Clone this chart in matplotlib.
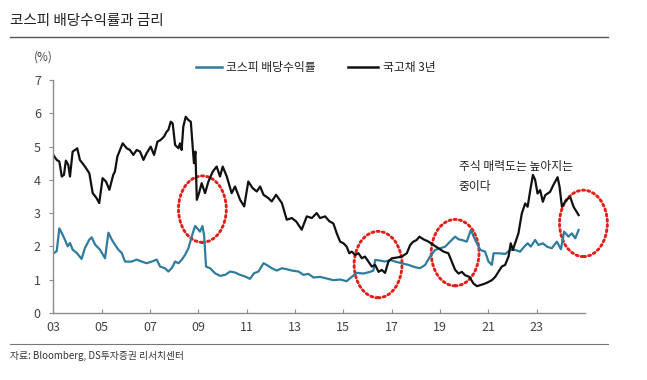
import matplotlib
matplotlib.use("Agg")
import matplotlib.pyplot as plt
from matplotlib.patches import Ellipse
from matplotlib.lines import Line2D

plt.rcParams['font.family'] = ['Noto Sans CJK KR', 'DejaVu Sans']

# 국고채 3년 (year, %)
bond_year = [2003.00, 2003.14, 2003.25, 2003.35, 2003.44, 2003.52, 2003.62, 2003.69, 2003.80, 2003.90,
             2003.99, 2004.10, 2004.31, 2004.49, 2004.63, 2004.79, 2004.90, 2005.04, 2005.18, 2005.32,
             2005.48, 2005.55, 2005.65, 2005.87, 2006.04, 2006.17, 2006.31, 2006.45, 2006.59, 2006.73,
             2006.86, 2007.03, 2007.17, 2007.31, 2007.44, 2007.58, 2007.69, 2007.76, 2007.86, 2007.94,
             2008.04, 2008.18, 2008.24, 2008.31, 2008.38, 2008.48, 2008.59, 2008.69, 2008.77, 2008.82,
             2008.88, 2008.94, 2009.03, 2009.14, 2009.28, 2009.42, 2009.60, 2009.76, 2009.90, 2010.01,
             2010.18, 2010.38, 2010.52, 2010.73, 2010.90, 2011.07, 2011.25, 2011.42, 2011.56, 2011.70,
             2011.90, 2012.04, 2012.22, 2012.46, 2012.66, 2012.87, 2013.05, 2013.28, 2013.49, 2013.70,
             2013.90, 2014.04, 2014.25, 2014.43, 2014.59, 2014.73, 2014.87, 2015.01, 2015.14, 2015.25,
             2015.35, 2015.49, 2015.63, 2015.77, 2015.90, 2016.04, 2016.18, 2016.32, 2016.46, 2016.59,
             2016.73, 2016.87, 2017.01, 2017.21, 2017.42, 2017.63, 2017.77, 2017.90, 2018.04, 2018.15,
             2018.32, 2018.53, 2018.73, 2018.94, 2019.15, 2019.35, 2019.49, 2019.63, 2019.77, 2019.91,
             2020.04, 2020.22, 2020.39, 2020.53, 2020.67, 2020.80, 2020.94, 2021.15, 2021.29, 2021.42,
             2021.56, 2021.70, 2021.84, 2021.93, 2022.02, 2022.11, 2022.25, 2022.39, 2022.53, 2022.63,
             2022.74, 2022.85, 2022.94, 2023.04, 2023.15, 2023.26, 2023.36, 2023.56, 2023.70, 2023.87,
             2023.95, 2024.05, 2024.23, 2024.39, 2024.53, 2024.74]
bond_val = [4.75, 4.60, 4.55, 4.10, 4.15, 4.58, 4.45, 4.10, 4.85, 4.90,
            4.95, 4.60, 4.40, 4.20, 3.60, 3.45, 3.30, 4.05, 3.95, 3.70,
            4.15, 4.25, 4.70, 5.10, 4.95, 4.90, 4.75, 4.90, 4.85, 4.60,
            4.80, 5.00, 4.75, 5.15, 5.20, 5.30, 5.45, 5.50, 5.75, 5.70,
            5.05, 4.95, 5.10, 4.90, 5.60, 5.90, 5.80, 5.75, 5.00, 4.50,
            4.85, 3.40, 3.60, 3.90, 3.60, 3.95, 4.25, 4.40, 4.10, 4.40,
            4.10, 3.60, 3.80, 3.40, 3.20, 3.95, 3.75, 3.65, 3.80, 3.55,
            3.45, 3.35, 3.55, 3.30, 2.80, 2.85, 2.75, 2.50, 2.90, 2.85,
            3.00, 2.85, 2.90, 2.75, 2.69, 2.39, 2.14, 2.09, 1.99, 1.79,
            1.84, 1.74, 1.79, 1.64, 1.69, 1.54, 1.39, 1.44, 1.23, 1.29,
            1.20, 1.54, 1.64, 1.66, 1.69, 1.79, 2.04, 2.14, 2.19, 2.29,
            2.21, 2.14, 2.04, 1.94, 1.84, 1.79, 1.54, 1.29, 1.18, 1.23,
            1.13, 1.08, 0.88, 0.80, 0.83, 0.86, 0.90, 0.98, 1.08, 1.23,
            1.39, 1.44, 1.69, 2.09, 1.89, 2.09, 2.39, 2.99, 3.29, 3.19,
            3.69, 4.15, 4.00, 3.59, 3.69, 3.34, 3.54, 3.64, 3.85, 4.08,
            3.80, 3.19, 3.39, 3.49, 3.19, 2.94]

# 코스피 배당수익률 (year, %)
div_year = [2003.00, 2003.14, 2003.25, 2003.35, 2003.48, 2003.59, 2003.69, 2003.80, 2003.97, 2004.17,
            2004.31, 2004.49, 2004.59, 2004.73, 2004.93, 2005.14, 2005.28, 2005.42, 2005.55, 2005.69,
            2005.83, 2005.97, 2006.24, 2006.45, 2006.66, 2006.86, 2007.07, 2007.28, 2007.42, 2007.62,
            2007.76, 2007.90, 2008.04, 2008.18, 2008.31, 2008.45, 2008.59, 2008.77, 2008.87, 2008.96,
            2009.07, 2009.17, 2009.24, 2009.32, 2009.49, 2009.69, 2009.90, 2010.11, 2010.32, 2010.52,
            2010.73, 2010.94, 2011.14, 2011.31, 2011.49, 2011.70, 2011.83, 2012.04, 2012.25, 2012.46,
            2012.66, 2012.87, 2013.15, 2013.35, 2013.56, 2013.77, 2014.04, 2014.32, 2014.59, 2014.87,
            2015.14, 2015.35, 2015.56, 2015.83, 2016.11, 2016.25, 2016.32, 2016.52, 2016.73, 2016.94,
            2017.15, 2017.42, 2017.70, 2017.97, 2018.18, 2018.39, 2018.59, 2018.80, 2019.01, 2019.22,
            2019.42, 2019.63, 2019.77, 2019.91, 2020.11, 2020.28, 2020.46, 2020.67, 2020.87, 2021.01,
            2021.15, 2021.22, 2021.42, 2021.70, 2021.91, 2022.11, 2022.32, 2022.49, 2022.63, 2022.76,
            2022.94, 2023.08, 2023.26, 2023.43, 2023.63, 2023.84, 2024.01, 2024.14, 2024.32, 2024.46,
            2024.60, 2024.74]
div_val = [1.79, 1.85, 2.54, 2.40, 2.20, 2.00, 2.10, 1.90, 1.80, 1.62,
           1.95, 2.20, 2.27, 2.05, 1.90, 1.64, 2.41, 2.20, 2.05, 1.90,
           1.80, 1.54, 1.54, 1.60, 1.54, 1.49, 1.54, 1.60, 1.39, 1.34,
           1.24, 1.34, 1.54, 1.49, 1.59, 1.74, 1.94, 2.39, 2.61, 2.54,
           2.44, 2.61, 2.34, 1.39, 1.34, 1.19, 1.11, 1.14, 1.24, 1.21,
           1.14, 1.09, 1.02, 1.19, 1.24, 1.49, 1.44, 1.34, 1.27, 1.34,
           1.31, 1.27, 1.24, 1.14, 1.17, 1.06, 1.08, 1.03, 0.98, 1.00,
           0.95, 1.08, 1.20, 1.18, 1.23, 1.27, 1.59, 1.57, 1.54, 1.59,
           1.54, 1.49, 1.44, 1.37, 1.34, 1.44, 1.69, 1.89, 1.94, 1.99,
           2.14, 2.29, 2.21, 2.19, 2.14, 2.49, 2.19, 1.89, 1.84, 1.54,
           1.44, 1.79, 1.79, 1.77, 1.89, 1.89, 1.84, 1.99, 2.09, 1.99,
           2.19, 2.04, 2.09, 1.99, 1.94, 2.14, 1.91, 2.44, 2.29, 2.39,
           2.24, 2.49]

# highlighted regions (center year, center value)
circle_year = [2009.17, 2016.44, 2019.63, 2024.94]
circle_val = [3.12, 1.45, 1.81, 2.69]

tick_years = list(range(2003, 2025, 2))
tick_labels = ['%02d' % (y % 100) for y in tick_years]

blue = '#2f7c9e'
grey = '#8c8c8c'

fig = plt.figure(figsize=(6.47, 3.80), dpi=100)
ax = fig.add_axes([0.0824, 0.177, 0.8216, 0.612])

ax.plot(div_year, div_val, color=blue, lw=1.6)
ax.plot(bond_year, bond_val, color='#111111', lw=1.6)

for cx, cy in zip(circle_year, circle_val):
    ax.add_patch(Ellipse((cx, cy), 1.98, 2.0, fill=False, edgecolor='#e0201b',
                         lw=2.1, linestyle=(0, (0.7, 1.1)), capstyle='round', clip_on=False))

ax.set_xlim(2003, 2025)
ax.set_ylim(0, 7)
ax.set_xticks(tick_years)
ax.set_xticklabels(tick_labels)
ax.set_yticks(range(0, 8))
for s in ['top', 'right']:
    ax.spines[s].set_visible(False)
for s in ['left', 'bottom']:
    ax.spines[s].set_color(grey)
    ax.spines[s].set_linewidth(1.0)
ax.tick_params(axis='x', direction='in', length=3, color=grey, labelsize=9, labelcolor='#444444', pad=6)
ax.tick_params(axis='y', direction='out', length=3, color=grey, labelsize=9, labelcolor='#444444', pad=6)

ax.text(2019.77, 4.6, '주식 매력도는 높아지는\n중이다', fontsize=8.5, color='#222222',
        va='top', ha='left', linespacing=1.7)

# title, legend, source
fig.text(0.016, 0.945, '코스피 배당수익률과 금리', fontsize=10.5, color='#222222', va='center')
fig.add_artist(Line2D([0.016, 0.94], [0.903, 0.903], color='#555555', lw=1.0))
fig.text(0.052, 0.85, '(%)', fontsize=8.5, color='#444444', va='center')

fig.add_artist(Line2D([0.303, 0.343], [0.823, 0.823], color=blue, lw=1.8))
fig.text(0.35, 0.823, '코스피 배당수익률', fontsize=8.5, color='#222222', va='center')
fig.add_artist(Line2D([0.538, 0.585], [0.823, 0.823], color='#111111', lw=1.8))
fig.text(0.592, 0.823, '국고채 3년', fontsize=8.5, color='#222222', va='center')

fig.add_artist(Line2D([0.016, 0.94], [0.095, 0.095], color='#777777', lw=0.8))
fig.text(0.016, 0.062, '자료: Bloomberg, DS투자증권 리서치센터', fontsize=7, color='#333333', va='center')

fig.savefig('out.png', dpi=100)
